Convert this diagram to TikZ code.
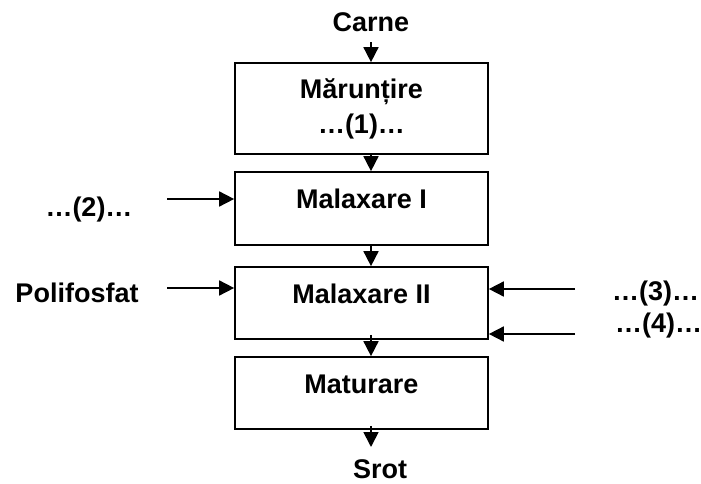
\documentclass[tikz,border=0pt]{standalone}
\usepackage{fontspec}
\setmainfont{Liberation Sans}
\usetikzlibrary{arrows.meta}
\tikzset{
every picture/.style={
line width=1.7pt
}}

\begin{document}
\begin{tikzpicture}[x=1pt, y=-1pt, >={Triangle[length=15pt,width=15pt]},
font=\fontsize{27}{35}\selectfont\bfseries,
box/.style = {rectangle, draw=black, minimum width=253pt, align=center, inner sep=0pt},
onebox/.style = {box, text height=20pt, text depth=20pt},
lbl/.style = {anchor=base}]
\useasboundingbox (0,0) rectangle (701,484);

\node[lbl] (carne) at (371,32) {Carne};
\node[box, minimum height=91pt] (m1) at (361.5,108.5) {Mărunțire\\…(1)…};
\node[onebox, minimum height=73pt] (m2) at (361.5,208.5) {Malaxare I};
\node[onebox, minimum height=72pt] (m3) at (361.5,303) {Malaxare II};
\node[onebox, minimum height=72pt] (m4) at (361.5,393) {Maturare};
\node[lbl] (srot) at (380,478) {Srot};

\node[lbl] (l2) at (89,216) {…(2)…};
\node[lbl] (poli) at (77,302) {Polifosfat};
\node[lbl] (l3) at (655.5,300) {…(3)…};
\node[lbl] (l4) at (658.5,332) {…(4)…};

\coordinate (c2) at (167,199);
\coordinate (cp) at (167,288);
\coordinate (c3) at (575,289);
\coordinate (c4) at (575,334);
\coordinate (send) at (371,447);

\draw [->] ([yshift=-6pt]carne.south) -- (carne |- m1.north);
\draw [->] (carne |- m1.south) -- (carne |- m2.north);
\draw [->] (carne |- m2.south) -- (carne |- m3.north);
\draw [->] ([yshift=5pt]carne |- m3.south) -- (carne |- m4.north);
\draw [->] ([yshift=4pt]carne |- m4.south) -- (send);

\draw [->] (c2) -- (c2 -| m2.west);
\draw [->] (cp) -- (cp -| m3.west);
\draw [->] (c3) -- (c3 -| m3.east);
\draw [->] (c4) -- (c4 -| m3.east);
\end{tikzpicture}
\end{document}
